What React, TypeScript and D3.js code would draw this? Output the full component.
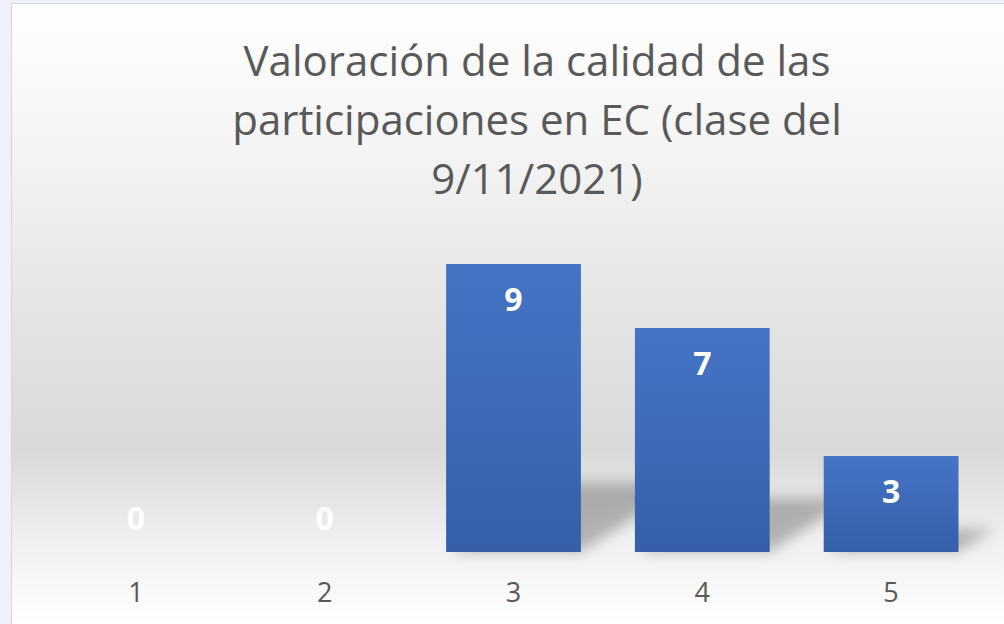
import React from 'react';
import * as d3 from 'd3';

const CATEGORIES = ['1', '2', '3', '4', '5'];
const VALUES = [0, 0, 9, 7, 3];
const TITLE_LINES = ['Valoración de la calidad de las', 'participaciones en EC (clase del', '9/11/2021)'];

const W = 1004;
const H = 624;
const FONT = '"Open Sans", "Noto Sans", sans-serif';

export default function App() {
  const x = d3.scaleBand<string>().domain(CATEGORIES).range([41.5, 985.5])
    .paddingInner(0.286).paddingOuter(0.143);
  const y = d3.scaleLinear().domain([0, 10]).range([552, 232]);
  const base = y(0);

  const data = CATEGORIES.map((c, i) => ({ c, v: VALUES[i] }));

  // perspective shadow behind each bar
  const shadowPath = (d: { c: string; v: number }) => {
    const x0 = x(d.c)!;
    const x1 = x0 + x.bandwidth();
    const h = base - y(d.v);
    const hs = h * 0.24, s = h * 0.37;
    const p = d3.path();
    p.moveTo(x0 + 4, base);
    p.lineTo(x1, base);
    p.lineTo(x1 + s, base - hs);
    p.lineTo(x0 + s, base - hs);
    p.closePath();
    return p.toString();
  };

  return (
    <svg width={W} height={H} style={{ position: 'absolute', left: 0, top: 0 }}>
      <defs>
        <linearGradient id="bg" x1="0" y1="0" x2="0" y2="1">
          <stop offset="0" stopColor="#ffffff" />
          <stop offset="0.25" stopColor="#f3f3f3" />
          <stop offset="0.5" stopColor="#e4e4e4" />
          <stop offset="0.72" stopColor="#d9d9d9" />
          <stop offset="0.86" stopColor="#efefef" />
          <stop offset="1" stopColor="#ffffff" />
        </linearGradient>
        <linearGradient id="bar" x1="0" y1="0" x2="0" y2="1">
          <stop offset="0" stopColor="#4574c6" />
          <stop offset="1" stopColor="#365fa8" />
        </linearGradient>
        <filter id="blur" x="-20%" y="-50%" width="140%" height="200%">
          <feGaussianBlur stdDeviation="7" />
        </filter>
      </defs>

      <rect x={0} y={0} width={W} height={H} fill="#eef1fa" />
      <rect x={11} y={3} width={W - 11} height={H - 3} fill="#d6d6d6" />
      <rect x={12} y={4} width={W - 12} height={H - 4} fill="url(#bg)" />

      <g fill="#595959" fontFamily={FONT} fontSize={42} textAnchor="middle">
        {TITLE_LINES.map((t, i) => (
          <text key={i} x={537} y={76 + i * 59}>{t}</text>
        ))}
      </g>

      <g filter="url(#blur)" fill="#000" opacity={0.25}>
        {data.filter(d => d.v > 0).map(d => (
          <path key={d.c} d={shadowPath(d)} />
        ))}
      </g>

      {data.map(d => (
        <rect key={d.c} x={x(d.c)} y={y(d.v)} width={x.bandwidth()} height={base - y(d.v)} fill="url(#bar)" />
      ))}

      <g fill="#ffffff" fontFamily={FONT} fontSize={32} fontWeight={700} textAnchor="middle">
        {data.map(d => (
          <text key={d.c} x={x(d.c)! + x.bandwidth() / 2} y={d.v > 0 ? y(d.v) + 47 : base - 22}>{d.v}</text>
        ))}
      </g>

      <g fill="#595959" fontFamily={FONT} fontSize={27} textAnchor="middle">
        {CATEGORIES.map(c => (
          <text key={c} x={x(c)! + x.bandwidth() / 2} y={602}>{c}</text>
        ))}
      </g>
    </svg>
  );
}
